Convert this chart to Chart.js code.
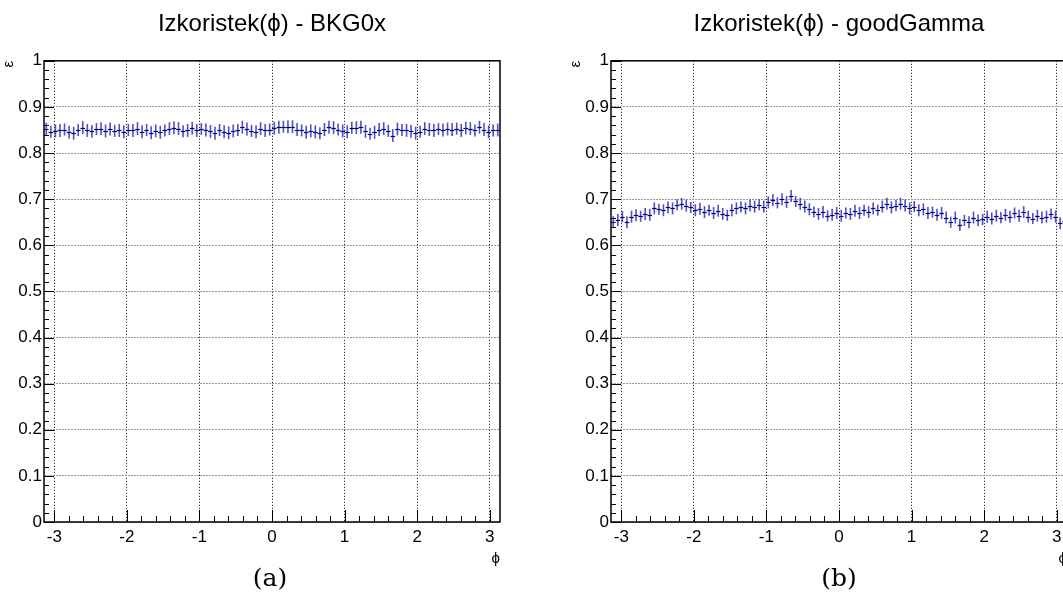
<!DOCTYPE html>
<html>
<head>
<meta charset="utf-8">
<script src="https://cdn.jsdelivr.net/npm/chart.js@4"></script>
<style>
  html, body { margin: 0; padding: 0; background: #fff; overflow: hidden; width: 1063px; height: 600px; }
  .panel { position: absolute; top: 0; width: 531px; height: 600px; }
  .cap { position: absolute; top: 563px; width: 100px; text-align: center; font-family: "DejaVu Serif", "Liberation Serif", serif; font-size: 25px; color: #000; }
</style>
</head>
<body>
<div class="panel" style="left:0px"><canvas id="chartA" width="531" height="600"></canvas></div>
<div class="panel" style="left:567px"><canvas id="chartB" width="531" height="600"></canvas></div>
<div class="cap" style="left:220px">(a)</div>
<div class="cap" style="left:789px">(b)</div>
<script>
// 100 bins in phi from -pi to pi
const nBins = 100;
const xTicks = [-3, -2, -1, 0, 1, 2, 3];
const yTicks = [0, 0.1, 0.2, 0.3, 0.4, 0.5, 0.6, 0.7, 0.8, 0.9, 1];

const bkgValues = [
  0.852, 0.846, 0.848, 0.849, 0.851, 0.845, 0.843, 0.850, 0.855, 0.849,
  0.847, 0.852, 0.853, 0.848, 0.852, 0.848, 0.849, 0.846, 0.850, 0.849,
  0.853, 0.846, 0.850, 0.844, 0.848, 0.845, 0.849, 0.853, 0.855, 0.853,
  0.847, 0.849, 0.854, 0.849, 0.852, 0.850, 0.847, 0.843, 0.850, 0.846,
  0.844, 0.848, 0.850, 0.856, 0.852, 0.848, 0.846, 0.853, 0.849, 0.851,
  0.854, 0.856, 0.857, 0.857, 0.857, 0.851, 0.849, 0.845, 0.848, 0.846,
  0.843, 0.851, 0.856, 0.855, 0.851, 0.848, 0.846, 0.855, 0.855, 0.856,
  0.847, 0.842, 0.845, 0.851, 0.853, 0.848, 0.838, 0.852, 0.850, 0.849,
  0.847, 0.843, 0.846, 0.853, 0.851, 0.849, 0.852, 0.850, 0.852, 0.851,
  0.853, 0.849, 0.854, 0.853, 0.849, 0.856, 0.851, 0.846, 0.849, 0.850
];
const bkgErrors = [
  0.014, 0.013, 0.014, 0.014, 0.013, 0.014, 0.014, 0.013, 0.014, 0.014,
  0.014, 0.013, 0.014, 0.014, 0.014, 0.013, 0.014, 0.014, 0.013, 0.014,
  0.014, 0.014, 0.013, 0.014, 0.014, 0.014, 0.013, 0.014, 0.014, 0.014,
  0.013, 0.014, 0.014, 0.014, 0.013, 0.014, 0.014, 0.014, 0.013, 0.014,
  0.014, 0.014, 0.013, 0.014, 0.014, 0.013, 0.014, 0.014, 0.014, 0.013,
  0.014, 0.014, 0.013, 0.014, 0.014, 0.014, 0.013, 0.014, 0.014, 0.014,
  0.013, 0.014, 0.014, 0.014, 0.013, 0.014, 0.014, 0.013, 0.014, 0.014,
  0.014, 0.013, 0.014, 0.014, 0.014, 0.013, 0.014, 0.014, 0.013, 0.014,
  0.014, 0.014, 0.013, 0.014, 0.014, 0.014, 0.013, 0.014, 0.014, 0.014,
  0.013, 0.014, 0.014, 0.014, 0.013, 0.014, 0.014, 0.014, 0.013, 0.014
];

const gammaValues = [
  0.650, 0.655, 0.662, 0.650, 0.662, 0.665, 0.663, 0.668, 0.666, 0.680,
  0.678, 0.676, 0.682, 0.680, 0.688, 0.690, 0.686, 0.682, 0.676, 0.679,
  0.672, 0.676, 0.670, 0.675, 0.668, 0.665, 0.676, 0.680, 0.683, 0.680,
  0.686, 0.684, 0.688, 0.684, 0.693, 0.698, 0.692, 0.700, 0.694, 0.707,
  0.695, 0.690, 0.684, 0.678, 0.672, 0.668, 0.672, 0.664, 0.666, 0.670,
  0.664, 0.670, 0.668, 0.675, 0.670, 0.676, 0.672, 0.680, 0.676, 0.684,
  0.690, 0.682, 0.686, 0.690, 0.686, 0.680, 0.684, 0.676, 0.678, 0.670,
  0.672, 0.666, 0.670, 0.660, 0.650, 0.660, 0.644, 0.654, 0.650, 0.660,
  0.654, 0.656, 0.662, 0.658, 0.664, 0.660, 0.666, 0.662, 0.670, 0.664,
  0.672, 0.662, 0.658, 0.664, 0.660, 0.662, 0.668, 0.662, 0.648, 0.652
];
const gammaErrors = [
  0.013, 0.013, 0.012, 0.013, 0.013, 0.013, 0.012, 0.013, 0.013, 0.013,
  0.012, 0.013, 0.013, 0.013, 0.012, 0.013, 0.013, 0.012, 0.013, 0.013,
  0.013, 0.012, 0.013, 0.013, 0.013, 0.012, 0.013, 0.013, 0.012, 0.013,
  0.013, 0.013, 0.012, 0.013, 0.013, 0.013, 0.012, 0.013, 0.013, 0.013,
  0.012, 0.013, 0.013, 0.013, 0.012, 0.013, 0.013, 0.012, 0.013, 0.013,
  0.013, 0.012, 0.013, 0.013, 0.013, 0.012, 0.013, 0.013, 0.012, 0.013,
  0.013, 0.013, 0.012, 0.013, 0.013, 0.013, 0.012, 0.013, 0.013, 0.013,
  0.012, 0.013, 0.013, 0.013, 0.012, 0.013, 0.013, 0.012, 0.013, 0.013,
  0.013, 0.012, 0.013, 0.013, 0.013, 0.012, 0.013, 0.013, 0.012, 0.013,
  0.013, 0.013, 0.012, 0.013, 0.013, 0.013, 0.012, 0.013, 0.013, 0.013
];

const binWidth = 2 * Math.PI / nBins;
const binCenters = [];
for (let i = 0; i < nBins; i++) binCenters.push(-Math.PI + (i + 0.5) * binWidth);

const font = '"Liberation Sans", Arial, Helvetica, sans-serif';

// error bars + root-style frame and inward ticks
const rootStyle = {
  id: 'rootStyle',
  afterDatasetsDraw(chart) {
    const ctx = chart.ctx;
    const xs = chart.scales.x, ys = chart.scales.y;
    const ds = chart.data.datasets[0];
    ctx.save();
    ds.data.forEach(p => {
      const px = xs.getPixelForValue(p.x);
      const x0 = xs.getPixelForValue(p.x - binWidth / 2);
      const x1 = xs.getPixelForValue(p.x + binWidth / 2);
      const py = ys.getPixelForValue(p.y);
      const yLo = ys.getPixelForValue(p.y - p.err);
      const yHi = ys.getPixelForValue(p.y + p.err);
      ctx.strokeStyle = 'rgba(50,50,180,0.85)';
      ctx.lineWidth = 1.6;
      ctx.beginPath();
      ctx.moveTo(px, yLo);
      ctx.lineTo(px, yHi);
      ctx.stroke();
      ctx.strokeStyle = '#000080';
      ctx.lineWidth = 1.2;
      ctx.beginPath();
      ctx.moveTo(x0, Math.round(py) + 0.5);
      ctx.lineTo(x1, Math.round(py) + 0.5);
      ctx.stroke();
    });
    ctx.restore();
  },
  afterDraw(chart) {
    const ctx = chart.ctx;
    const a = chart.chartArea;
    const xs = chart.scales.x, ys = chart.scales.y;
    ctx.save();
    ctx.strokeStyle = '#000';
    ctx.lineWidth = 1;
    // y ticks every 0.02, major every 0.1
    for (let k = 0; k <= 50; k++) {
      const y = Math.round(ys.getPixelForValue(k * 0.02)) + 0.5;
      const len = k % 5 === 0 ? 10 : 5;
      ctx.beginPath();
      ctx.moveTo(a.left, y);
      ctx.lineTo(a.left + len, y);
      ctx.stroke();
    }
    // x ticks every 0.2, major every 1
    for (let k = -16; k <= 16; k++) {
      const v = k * 0.2;
      if (v < -Math.PI || v > Math.PI) continue;
      const x = Math.round(xs.getPixelForValue(v)) + 0.5;
      const len = k % 5 === 0 ? 12 : 6;
      ctx.beginPath();
      ctx.moveTo(x, a.bottom);
      ctx.lineTo(x, a.bottom - len);
      ctx.stroke();
    }
    ctx.lineWidth = 1.5;
    ctx.strokeRect(a.left, a.top, a.right - a.left, a.bottom - a.top);
    ctx.restore();
  }
};

function makeChart(id, title, values, errors) {
  const points = binCenters.map((x, i) => ({ x: x, y: values[i], err: errors[i] }));
  return new Chart(document.getElementById(id), {
    type: 'scatter',
    data: {
      datasets: [{ data: points, pointRadius: 0, showLine: false }]
    },
    options: {
      responsive: false,
      animation: false,
      layout: { padding: { left: 0, right: 31, top: 0, bottom: 32 } },
      plugins: {
        legend: { display: false },
        tooltip: { enabled: false },
        title: {
          display: true,
          text: title,
          fullSize: false,
          color: '#000',
          font: { family: font, size: 24, weight: 'normal', lineHeight: 1.2 },
          padding: { top: 10, bottom: 22 }
        }
      },
      scales: {
        x: {
          type: 'linear',
          min: -Math.PI,
          max: Math.PI,
          afterBuildTicks: s => { s.ticks = xTicks.map(v => ({ value: v })); },
          afterFit: s => { s.height = 46; },
          grid: { color: '#000', lineWidth: 1, drawTicks: false },
          border: { display: false, dash: [1, 2] },
          ticks: { color: '#000', font: { family: font, size: 17 }, padding: 5, maxRotation: 0 },
          title: { display: true, text: 'ϕ', align: 'end', color: '#000', font: { family: font, size: 15 }, padding: { top: 4, bottom: 0 } }
        },
        y: {
          min: 0,
          max: 1,
          afterBuildTicks: s => { s.ticks = yTicks.map(v => ({ value: v })); },
          afterFit: s => { s.width = 44; },
          grid: { color: '#999', lineWidth: 1, drawTicks: false },
          border: { display: false, dash: [2, 1] },
          ticks: { color: '#000', font: { family: font, size: 17 }, padding: 2, callback: v => String(v) },
          title: { display: true, text: 'ε', align: 'end', color: '#000', font: { family: font, size: 15 }, padding: { top: 0, bottom: 0 } }
        }
      }
    },
    plugins: [rootStyle]
  });
}

makeChart('chartA', 'Izkoristek(ϕ) - BKG0x', bkgValues, bkgErrors);
makeChart('chartB', 'Izkoristek(ϕ) - goodGamma', gammaValues, gammaErrors);
</script>
</body>
</html>
